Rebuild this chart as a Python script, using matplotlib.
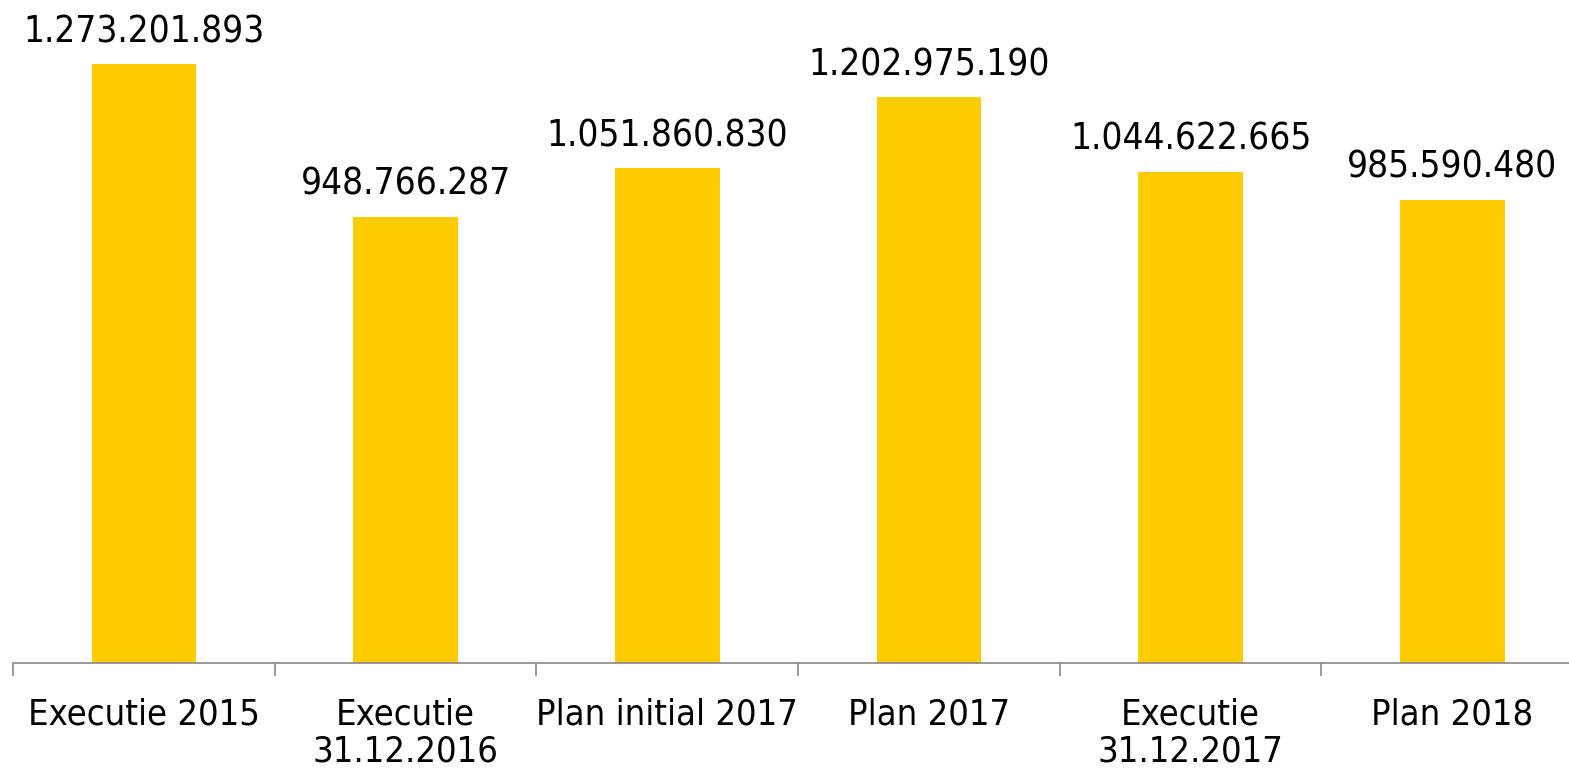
import numpy as np
import matplotlib.pyplot as plt

categories = ['Executie 2015', 'Executie\n31.12.2016', 'Plan initial 2017',
              'Plan 2017', 'Executie\n31.12.2017', 'Plan 2018']
values = [1273201893, 948766287, 1051860830, 1202975190, 1044622665, 985590480]
labels = ['1.273.201.893', '948.766.287', '1.051.860.830',
          '1.202.975.190', '1.044.622.665', '985.590.480']

plt.rcParams['font.family'] = ['DejaVu Sans']
plt.rcParams['font.stretch'] = 'condensed'

fig = plt.figure(figsize=(15.69, 7.75), dpi=100)
ax = fig.add_axes([13 / 1569, 112 / 775, 6 * 261.7 / 1569, 663 / 775])

x = np.arange(len(categories))
bars = ax.bar(x, values, width=0.4, color='#FFCC00')

for b, lab in zip(bars, labels):
    ax.annotate(lab, (b.get_x() + b.get_width() / 2, b.get_height()),
                xytext=(0, 10), textcoords='offset points',
                ha='center', va='bottom', fontsize=26.5)

ax.set_xlim(-0.5, len(categories) - 0.5)
ax.set_ylim(0, 1.41e9)

ax.set_xticks(x)
ax.set_xticklabels(categories, fontsize=26, linespacing=1.12)
ax.set_xticks(np.arange(-0.5, len(categories) + 0.5, 1), minor=True)
ax.tick_params(axis='x', which='major', length=0, pad=25)
ax.tick_params(axis='x', which='minor', length=9.5, color='#888888', width=1.2)
ax.set_yticks([])

for s in ['top', 'right', 'left']:
    ax.spines[s].set_visible(False)
ax.spines['bottom'].set_color('#888888')
ax.spines['bottom'].set_linewidth(1.2)

fig.savefig('out.png', dpi=100)
